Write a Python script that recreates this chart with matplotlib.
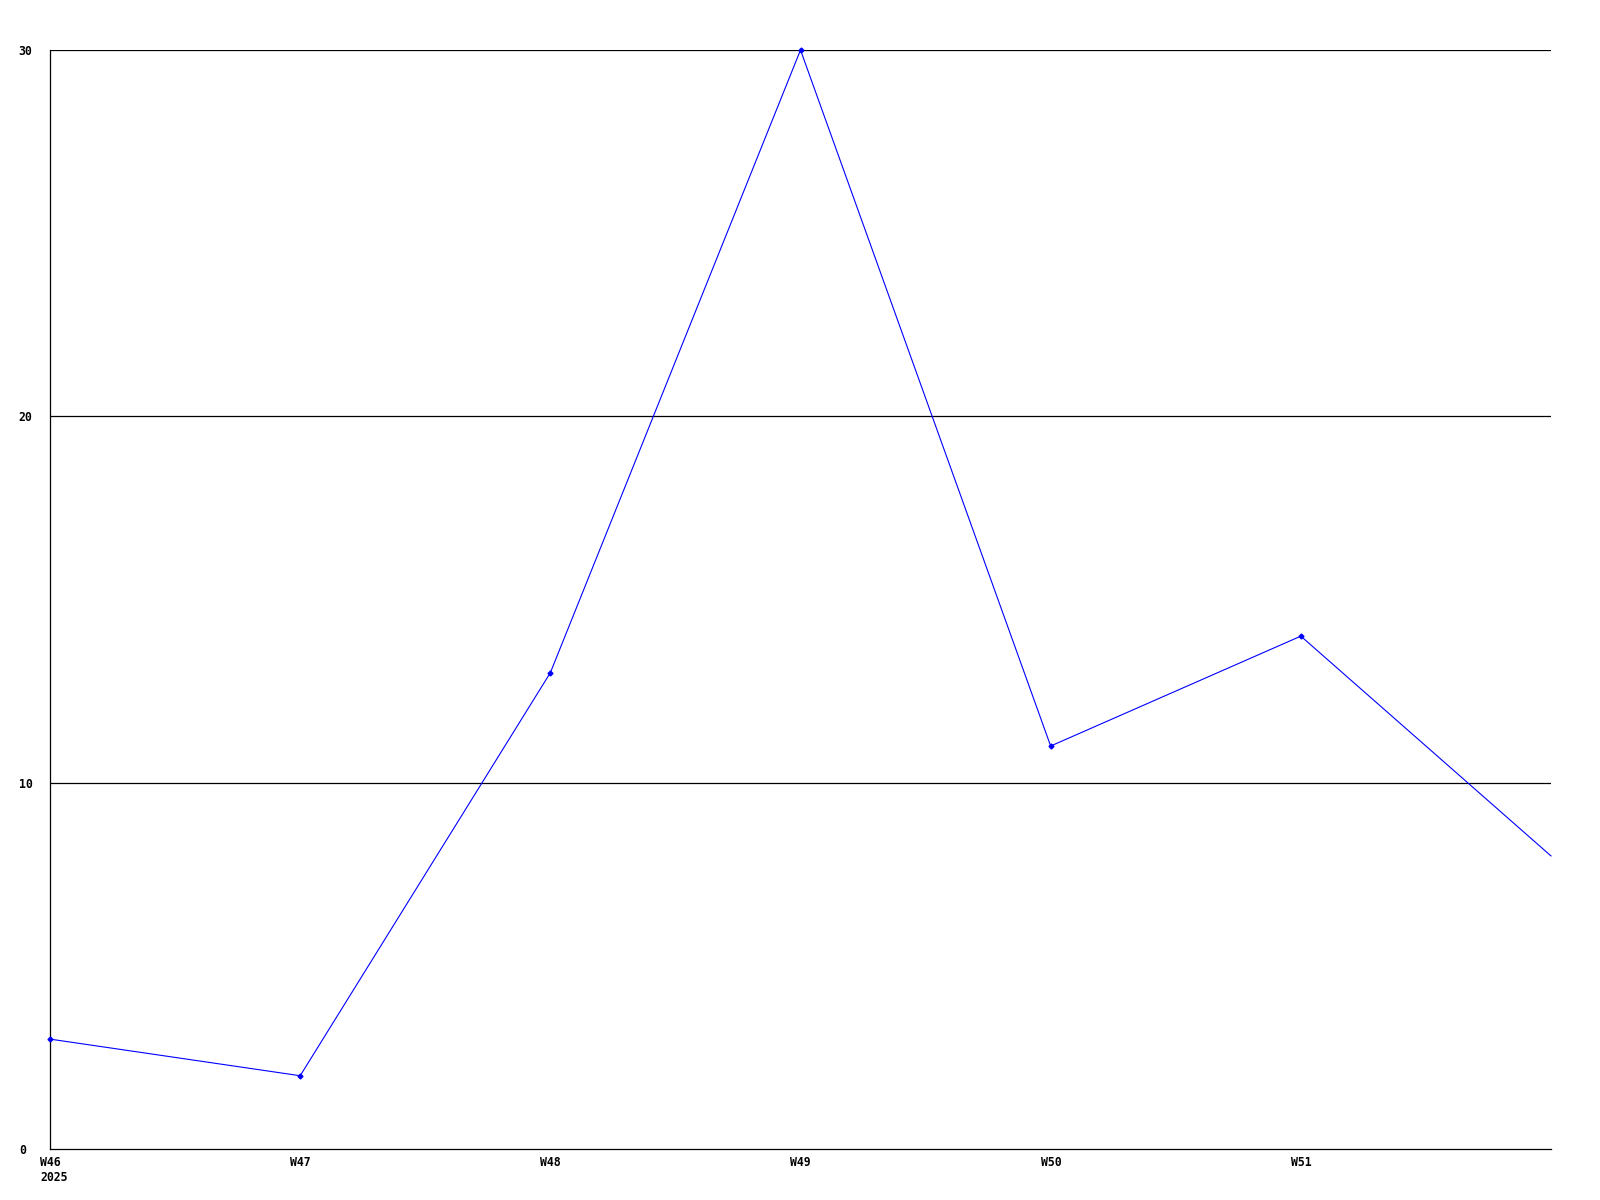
import matplotlib
matplotlib.use('Agg')
from matplotlib import pyplot as plt
from matplotlib.transforms import ScaledTranslation

weeks = ['W46\n2025', 'W47', 'W48', 'W49', 'W50', 'W51']
counts = [3, 2, 13, 30, 11, 14, 8]
yticks = [0, 10, 20, 30]

plt.rcParams['font.family'] = ['DejaVu Sans Mono']
fig = plt.figure(figsize=(16, 12), dpi=100)
ax = fig.add_axes([50/1600, 51/1200, 1501/1600, 1099/1200])

xs = list(range(len(counts)))
ax.plot(xs, counts, color='#0000ff', lw=0.8, marker='D', ms=2.5,
        markevery=list(range(len(weeks))), clip_on=False, zorder=3)

ax.set_xlim(0, len(counts) - 1)
ax.set_ylim(0, 30)
for v in yticks[1:]:
    ax.axhline(v, color='black', lw=0.9, zorder=1)

ax.set_xticks(range(len(weeks)))
ax.set_xticklabels(weeks, fontsize=8.3, fontweight='bold', ha='left', va='top', linespacing=1.15)
ax.set_yticks(yticks)
ax.set_yticklabels([str(v) for v in yticks], fontsize=8.3, fontweight='bold', ha='left')
ax.tick_params(axis='both', length=0)
ax.tick_params(axis='y', pad=22.5)
ax.tick_params(axis='x', pad=5.3)
shift = ScaledTranslation(-10/100, 0, fig.dpi_scale_trans)
for lab in ax.get_xticklabels():
    lab.set_transform(lab.get_transform() + shift)

for s in ['top', 'right']:
    ax.spines[s].set_visible(False)
for s in ['left', 'bottom']:
    ax.spines[s].set_linewidth(0.9)

fig.savefig('out.png', dpi=100)
